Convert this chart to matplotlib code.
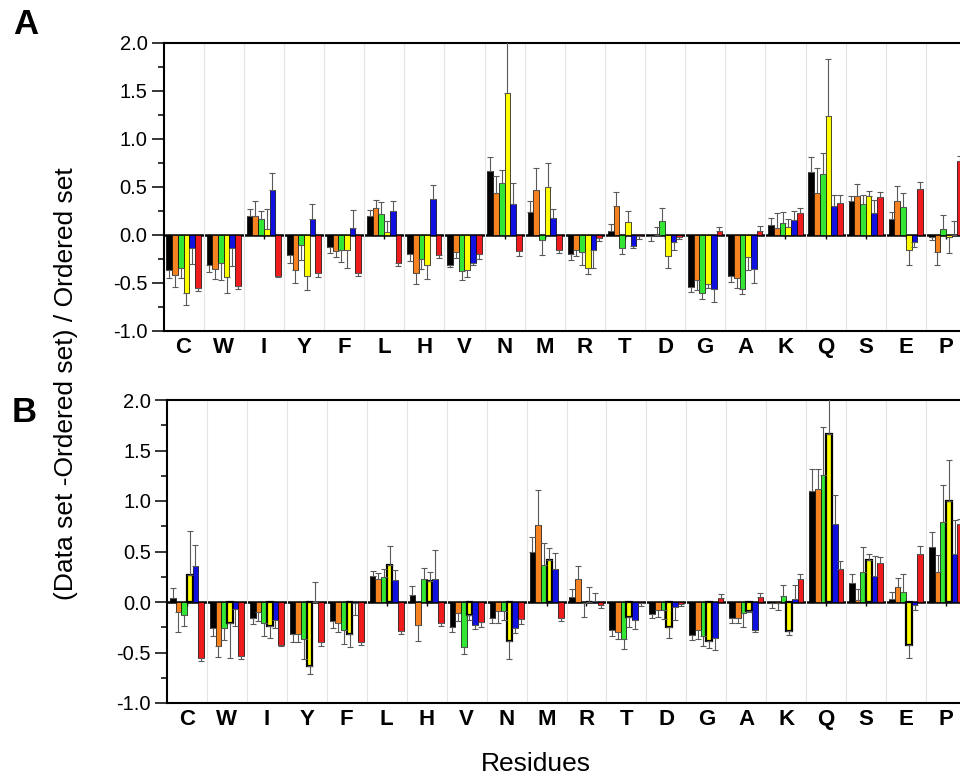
import numpy as np
import matplotlib
matplotlib.use("Agg")
import matplotlib.pyplot as plt
from matplotlib.ticker import MultipleLocator, FixedLocator

plt.rcParams['font.family'] = ['Liberation Sans', 'DejaVu Sans']
plt.rcParams['axes.unicode_minus'] = False

residues = ["C", "W", "I", "Y", "F", "L", "H", "V", "N", "M",
            "R", "T", "D", "G", "A", "K", "Q", "S", "E", "P"]
colors = ["#000000", "#f5821f", "#33e633", "#ffff00", "#1010e0", "#ee1c1c"]

# panel A: bar values and signed error (+ up, - down)
a_black = [-0.37, -0.31, 0.20, -0.21, -0.13, 0.20, -0.20, -0.31, 0.66, 0.24,
           -0.20, 0.045, -0.01, -0.54, -0.43, 0.10, 0.65, 0.35, 0.16, -0.02]
a_black_err = [-0.08, -0.08, 0.07, -0.08, -0.06, 0.06, -0.07, -0.02, 0.15, 0.11,
               -0.06, 0.065, -0.05, -0.05, -0.06, 0.07, 0.16, 0.05, 0.08, -0.03]
a_orange = [-0.42, -0.36, 0.20, -0.37, -0.17, 0.28, -0.40, -0.18, 0.43, 0.47,
            -0.16, 0.30, 0.0, -0.47, -0.45, 0.07, 0.44, 0.40, 0.35, -0.18]
a_orange_err = [-0.12, -0.10, 0.15, -0.13, -0.06, 0.08, -0.11, -0.06, 0.18, 0.22,
                -0.06, 0.15, 0.08, -0.10, -0.10, 0.16, 0.26, 0.13, 0.16, -0.13]
a_green = [-0.34, -0.29, 0.16, -0.11, -0.16, 0.22, -0.25, -0.38, 0.54, -0.05,
           -0.18, -0.14, 0.14, -0.61, -0.56, 0.12, 0.63, 0.32, 0.29, 0.06]
a_green_err = [-0.11, -0.18, 0.09, -0.15, -0.12, 0.12, -0.11, -0.09, 0.13, -0.16,
               -0.13, -0.06, 0.14, -0.06, -0.06, 0.12, 0.22, 0.09, 0.15, 0.15]
a_yellow = [-0.61, -0.44, 0.06, -0.43, -0.16, 0.03, -0.31, -0.37, 1.48, 0.50,
            -0.34, 0.135, -0.22, -0.51, -0.23, 0.08, 1.24, 0.40, -0.16, -0.02]
a_yellow_err = [-0.12, -0.16, 0.21, -0.14, -0.18, 0.11, -0.15, -0.07, 0.62, 0.25,
                -0.07, 0.115, -0.13, -0.04, -0.14, 0.08, 0.59, 0.06, -0.15, -0.17]
a_blue = [-0.14, -0.14, 0.47, 0.16, 0.07, 0.25, 0.37, -0.29, 0.32, 0.17,
          -0.16, -0.12, -0.07, -0.56, -0.36, 0.15, 0.30, 0.23, -0.07, 0.0]
a_blue_err = [-0.16, -0.18, 0.17, 0.16, 0.19, 0.10, 0.15, -0.02, 0.22, 0.10,
              -0.19, -0.02, -0.09, -0.14, -0.14, 0.10, 0.11, 0.13, -0.06, 0.14]

# reference (red) series, same in both panels
red = [-0.55, -0.53, -0.43, -0.40, -0.40, -0.29, -0.21, -0.20, -0.17, -0.16,
       -0.03, -0.01, -0.02, 0.035, 0.045, 0.23, 0.33, 0.39, 0.48, 0.77]
red_err = [-0.03, -0.03, -0.01, -0.04, -0.03, -0.03, -0.03, -0.05, -0.05, -0.03,
           -0.03, -0.03, -0.02, 0.045, 0.045, 0.05, 0.08, 0.06, 0.07, 0.05]

# panel B
b_black = [0.035, -0.26, -0.16, -0.32, -0.19, 0.26, 0.07, -0.25, -0.16, 0.50,
           0.05, -0.28, -0.12, -0.33, -0.16, -0.01, 1.10, 0.185, 0.03, 0.54]
b_black_err = [0.105, -0.08, -0.06, -0.08, -0.07, 0.05, 0.09, -0.05, -0.05, 0.14,
               0.08, -0.06, -0.04, -0.05, -0.05, -0.05, 0.22, 0.095, 0.07, 0.15]
b_orange = [-0.10, -0.44, -0.10, -0.32, -0.21, 0.23, -0.23, -0.11, -0.09, 0.76,
            0.23, -0.30, -0.08, -0.28, -0.16, -0.01, 1.12, 0.02, 0.15, 0.30]
b_orange_err = [-0.20, -0.10, -0.09, -0.08, -0.09, 0.06, -0.16, -0.08, -0.12, 0.35,
                0.13, -0.07, -0.07, -0.09, -0.05, -0.07, 0.20, 0.11, 0.09, 0.17]
b_green = [-0.13, -0.26, -0.21, -0.37, -0.28, 0.25, 0.23, -0.45, -0.09, 0.37,
           -0.01, -0.37, -0.08, -0.34, -0.11, 0.06, 1.26, 0.30, 0.10, 0.79]
b_green_err = [-0.11, -0.12, -0.13, -0.19, -0.14, 0.08, 0.11, -0.06, -0.09, 0.21,
               -0.14, -0.10, -0.09, -0.10, -0.14, 0.11, 0.47, 0.24, 0.18, 0.37]
b_yellow = [0.27, -0.21, -0.24, -0.63, -0.32, 0.37, 0.21, -0.13, -0.39, 0.42,
            0.0, -0.145, -0.25, -0.39, -0.09, -0.29, 1.66, 0.42, -0.43, 1.00]
b_yellow_err = [0.43, -0.34, -0.12, -0.08, -0.13, 0.18, 0.09, -0.05, -0.17, 0.11,
                0.15, -0.105, -0.11, -0.07, -0.01, -0.04, 0.50, 0.06, -0.12, 0.41]
b_blue = [0.36, -0.07, -0.18, 0.0, -0.01, 0.22, 0.23, -0.23, -0.26, 0.33,
          0.01, -0.18, -0.05, -0.36, -0.28, 0.03, 0.77, 0.26, -0.03, 0.48]
b_blue_err = [0.20, -0.17, -0.08, 0.20, -0.12, 0.10, 0.28, -0.04, -0.05, 0.16,
              0.08, -0.09, -0.13, -0.12, -0.02, 0.14, 0.29, 0.20, -0.05, 0.33]

panel_a = [(a_black, a_black_err), (a_orange, a_orange_err), (a_green, a_green_err),
           (a_yellow, a_yellow_err), (a_blue, a_blue_err), (red, red_err)]
panel_b = [(b_black, b_black_err), (b_orange, b_orange_err), (b_green, b_green_err),
           (b_yellow, b_yellow_err), (b_blue, b_blue_err), (red, red_err)]

W, H = 960, 779
fig = plt.figure(figsize=(W / 100, H / 100), dpi=100)
# axes run a bit past the right edge of the figure, as in the original crop
ax_a = fig.add_axes([163.5 / W, 1 - 331 / H, (966 - 163.5) / W, (331 - 42.5) / H])
ax_b = fig.add_axes([167 / W, 1 - 703 / H, (966 - 167) / W, (703 - 400) / H])

x = np.arange(len(residues))
bw = 0.142


def draw_panel(ax, series, thick_yellow=False):
    for i, (vals, errs) in enumerate(series):
        vals = np.asarray(vals)
        errs = np.asarray(errs)
        pos = x + (i - 2.5) * bw
        lw = 1.6 if (thick_yellow and i == 3) else 0.5
        ax.bar(pos, vals, width=bw, color=colors[i], edgecolor="black",
               linewidth=lw, zorder=3)
        lower = np.where(errs < 0, -errs, 0)
        upper = np.where(errs > 0, errs, 0)
        ax.errorbar(pos, vals, yerr=[lower, upper], fmt="none", ecolor="#5a5a5a",
                    elinewidth=0.8, capsize=2.2, capthick=0.8, zorder=4)

    ax.set_xlim(-0.5, len(residues) - 0.5)
    ax.set_ylim(-1.0, 2.0)
    ax.yaxis.set_major_locator(MultipleLocator(0.5))
    ax.yaxis.set_minor_locator(MultipleLocator(0.25))
    ax.yaxis.set_major_formatter(plt.FormatStrFormatter("%.1f"))
    ax.tick_params(axis="y", which="major", direction="out", length=8.5, width=1.1,
                   labelsize=14.5, pad=3)
    ax.tick_params(axis="y", which="minor", direction="out", length=4, width=1.1)
    ax.set_xticks(x)
    ax.set_xticklabels(residues, fontweight="bold", fontsize=16)
    ax.xaxis.set_minor_locator(FixedLocator(np.arange(len(residues) - 1) + 0.5))
    ax.tick_params(axis="x", which="both", length=0, pad=4)
    ax.grid(axis="x", which="minor", color="#e4e4e4", linewidth=0.8, zorder=0)
    for s in ["left", "top", "bottom", "right"]:
        ax.spines[s].set_linewidth(1.5)

    # zero line with small ticks at residue positions
    sec = ax.secondary_xaxis(1 / 3)
    sec.spines["bottom"].set_linewidth(1.8)
    sec.set_xticks(x)
    sec.set_xticklabels([])
    sec.tick_params(length=3, width=1.0)


draw_panel(ax_a, panel_a)
draw_panel(ax_b, panel_b, thick_yellow=True)

fig.text(26 / W, 1 - 24 / H, "A", fontsize=25, fontweight="bold", ha="center", va="center")
fig.text(24 / W, 1 - 413 / H, "B", fontsize=25, fontweight="bold", ha="center", va="center")
fig.text(66 / W, 1 - 384 / H, "(Data set -Ordered set) / Ordered set", rotation=90,
         fontsize=19, ha="center", va="center")
fig.text(536 / W, 1 - 764 / H, "Residues", fontsize=19, ha="center", va="center")

fig.savefig("out.png", dpi=100)
